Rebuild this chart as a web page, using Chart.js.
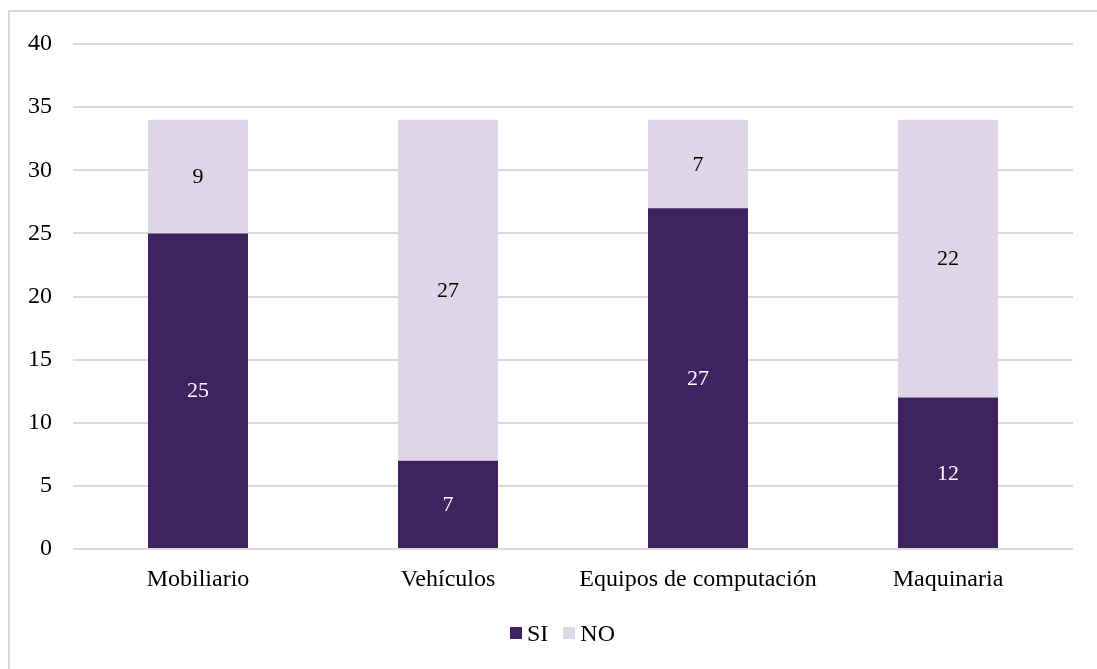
<!DOCTYPE html>
<html lang="es">
<head>
  <meta charset="UTF-8">
  <title>SI / NO por categoría</title>
  <script src="https://cdn.jsdelivr.net/npm/chart.js@4.4.0/dist/chart.umd.min.js"></script>
  <style>
    body {
      margin: 0;
      background-color: #ffffff;
      overflow: hidden;
    }
    #frame {
      position: absolute;
      left: 8px;
      top: 10px;
      width: 1120px;
      height: 700px;
      border: 2px solid #d9d9d9;
    }
    #wrap {
      position: absolute;
      left: 0;
      top: 0;
      width: 1097px;
      height: 669px;
    }
    #legend {
      position: absolute;
      left: 510px;
      top: 618px;
      display: flex;
      align-items: center;
      font-family: 'Liberation Serif', 'Times New Roman', serif;
      font-size: 24px;
      color: #000000;
      line-height: 30px;
    }
    #legend .item {
      display: flex;
      align-items: center;
      margin-right: 15px;
    }
    #legend .box {
      width: 12px;
      height: 12px;
      margin-right: 5px;
    }
  </style>
</head>
<body>
  <div id="frame"></div>
  <div id="wrap">
    <canvas id="stackChart"></canvas>
  </div>
  <div id="legend"></div>

  <script>
    const categories = ["Mobiliario", "Vehículos", "Equipos de computación", "Maquinaria"];
    const siValues = [25, 7, 27, 12];
    const noValues = [9, 27, 7, 22];
    const yTicks = [0, 5, 10, 15, 20, 25, 30, 35, 40];

    const fontFamily = "'Liberation Serif', 'Times New Roman', serif";

    // draws the value in the middle of each bar segment
    const barValues = {
      id: "barValues",
      afterDatasetsDraw(chart) {
        const ctx = chart.ctx;
        ctx.save();
        ctx.font = "22px " + fontFamily;
        ctx.textAlign = "center";
        ctx.textBaseline = "middle";
        chart.data.datasets.forEach((ds, i) => {
          const meta = chart.getDatasetMeta(i);
          meta.data.forEach((bar, j) => {
            const p = bar.getCenterPoint();
            ctx.fillStyle = ds.valueColor;
            ctx.fillText(ds.data[j], p.x, p.y + 1);
          });
        });
        ctx.restore();
      }
    };

    const ctx = document.getElementById("stackChart").getContext("2d");

    const chart = new Chart(ctx, {
      type: "bar",
      data: {
        labels: categories,
        datasets: [
          {
            label: "SI",
            data: siValues,
            backgroundColor: "#3f2360",
            valueColor: "#ffffff",
            categoryPercentage: 0.8,
            barPercentage: 0.5
          },
          {
            label: "NO",
            data: noValues,
            backgroundColor: "#dcd6e7",
            valueColor: "#000000",
            categoryPercentage: 0.8,
            barPercentage: 0.5
          }
        ]
      },
      options: {
        responsive: true,
        maintainAspectRatio: false,
        animation: false,
        layout: {
          padding: { top: 44, right: 24, bottom: 62, left: 0 }
        },
        plugins: {
          legend: { display: false },
          tooltip: { enabled: false }
        },
        scales: {
          x: {
            stacked: true,
            grid: { display: false, drawTicks: false },
            border: { display: false },
            ticks: {
              color: "#000000",
              padding: 16,
              font: { family: fontFamily, size: 24 }
            },
            afterFit(scale) {
              scale.height = 58;
            }
          },
          y: {
            stacked: true,
            min: 0,
            max: 40,
            afterBuildTicks(scale) {
              scale.ticks = yTicks.map(v => ({ value: v }));
            },
            grid: {
              color: "#d9d9d9",
              lineWidth: 2,
              drawTicks: false
            },
            border: { display: false },
            ticks: {
              color: "#000000",
              padding: 21,
              font: { family: fontFamily, size: 24 }
            },
            afterFit(scale) {
              scale.width = 73;
            }
          }
        }
      },
      plugins: [barValues]
    });

    // simple legend under the chart, built from the datasets
    const legendEl = document.getElementById("legend");
    chart.data.datasets.forEach(ds => {
      const item = document.createElement("span");
      item.className = "item";
      const box = document.createElement("span");
      box.className = "box";
      box.style.backgroundColor = ds.backgroundColor;
      item.appendChild(box);
      item.appendChild(document.createTextNode(ds.label));
      legendEl.appendChild(item);
    });
  </script>
</body>
</html>
